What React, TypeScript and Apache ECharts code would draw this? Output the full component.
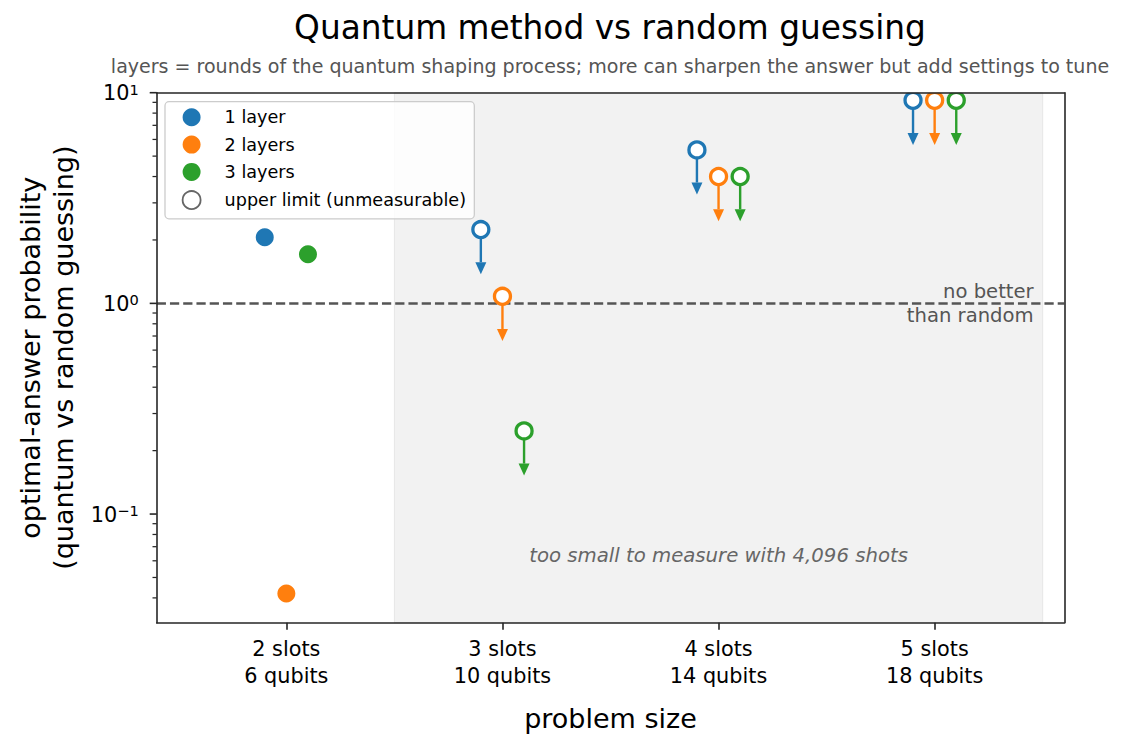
import React, { useEffect, useRef } from 'react';
import * as echarts from 'echarts';

// ---------- data ----------
const SIZE_LABELS = ['2 slots\n6 qubits', '3 slots\n10 qubits', '4 slots\n14 qubits', '5 slots\n18 qubits'];
const SIZE_POSITIONS = [0, 1, 2, 3];
const LAYER_NAMES = ['1 layer', '2 layers', '3 layers'];
const LAYER_OFFSETS = [-0.1, 0, 0.1];
const LAYER1_VALUES = [2.06, 2.24, 5.35, 9.2];
const LAYER2_VALUES = [0.042, 1.08, 4.0, 9.2];
const LAYER3_VALUES = [1.71, 0.248, 4.0, 9.2];
const LAYER1_UPPER_LIMIT = [false, true, true, true];
const LAYER2_UPPER_LIMIT = [false, true, true, true];
const LAYER3_UPPER_LIMIT = [false, true, true, true];
const UPPER_LIMIT_NAME = 'upper limit (unmeasurable)';
const Y_MAJOR_TICKS = [0.1, 1, 10];
const Y_MINOR_TICKS = [0.04, 0.05, 0.06, 0.07, 0.08, 0.09, 0.2, 0.3, 0.4, 0.5, 0.6, 0.7, 0.8, 0.9, 2, 3, 4, 5, 6, 7, 8, 9];
const RANDOM_LEVEL = 1;
const SHADE_RANGE = [0.5, 3.5];
const TITLE = 'Quantum method vs random guessing';
const SUBTITLE = 'layers = rounds of the quantum shaping process; more can sharpen the answer but add settings to tune';
const X_NAME = 'problem size';
const Y_NAME = 'optimal-answer probability\n(quantum vs random guessing)';
const RANDOM_NOTE = 'no better\nthan random';
const RANDOM_NOTE_POS = [3.458, 1];
const SHADE_NOTE = 'too small to measure with 4,096 shots';
const SHADE_NOTE_POS = [2, 0.0639];

// ---------- style ----------
const FONT = 'DejaVu Sans';
const LAYER_COLORS = ['#1f77b4', '#ff7f0e', '#2ca02c'];
const X_MIN = -0.6;
const X_MAX = 3.6;
const Y_MIN = 0.0305;
const Y_MAX = 10;
const ARROW_FRAC = 0.7;
const SPINE = '#262626';

const LAYER_VALUES = [LAYER1_VALUES, LAYER2_VALUES, LAYER3_VALUES];
const LAYER_UPPER = [LAYER1_UPPER_LIMIT, LAYER2_UPPER_LIMIT, LAYER3_UPPER_LIMIT];

function buildOption() {
  const measuredSeries = LAYER_NAMES.map((name, li) => ({
    name,
    type: 'scatter',
    symbol: 'circle',
    symbolSize: 18,
    itemStyle: { color: LAYER_COLORS[li], opacity: 1 },
    z: 4,
    data: SIZE_POSITIONS.map((p, i) => (LAYER_UPPER[li][i] ? null : [p + LAYER_OFFSETS[li], LAYER_VALUES[li][i]])).filter(Boolean),
  }));

  const upperData: number[][] = [];
  LAYER_NAMES.forEach((_, li) => {
    SIZE_POSITIONS.forEach((p, i) => {
      if (LAYER_UPPER[li][i]) upperData.push([p + LAYER_OFFSETS[li], LAYER_VALUES[li][i], li]);
    });
  });

  const tickData = [
    ...Y_MAJOR_TICKS.map((v) => [X_MIN, v, 1]),
    ...Y_MINOR_TICKS.map((v) => [X_MIN, v, 0]),
  ];

  const spineLine = { show: true, onZero: false, lineStyle: { color: SPINE, width: 1.6 } };

  return {
    animation: false,
    backgroundColor: '#ffffff',
    textStyle: { fontFamily: FONT },
    title: [
      {
        text: TITLE,
        left: 610,
        top: 11,
        padding: 0,
        textAlign: 'center',
        textStyle: { fontSize: 32.8, fontWeight: 'normal', color: '#000', fontFamily: FONT },
      },
      {
        text: SUBTITLE,
        left: 610,
        top: 56,
        padding: 0,
        textAlign: 'center',
        textStyle: { fontSize: 19.05, fontWeight: 'normal', color: '#555', fontFamily: FONT },
      },
    ],
    legend: {
      orient: 'vertical',
      left: 165,
      top: 101.7,
      padding: [6.6, 8.3, 8.8, 16.7],
      itemWidth: 18,
      itemHeight: 18,
      itemGap: 9.3,
      selectedMode: false,
      backgroundColor: 'rgba(255,255,255,0.8)',
      borderColor: '#cccccc',
      borderWidth: 1.3,
      borderRadius: 4,
      textStyle: { fontSize: 17.6, color: '#000', fontFamily: FONT, padding: [0, 0, 0, 19] },
      data: [
        ...LAYER_NAMES.map((n) => ({ name: n, icon: 'circle' })),
        { name: UPPER_LIMIT_NAME, icon: 'circle', itemStyle: { color: '#ffffff', borderColor: '#666666', borderWidth: 1.8 } },
      ],
      z: 10,
    },
    grid: { left: 156.7, top: 92.7, right: 60.7, bottom: 127.3, show: false },
    xAxis: [
      {
        type: 'value',
        min: X_MIN,
        max: X_MAX,
        z: 8,
        axisLine: spineLine,
        axisTick: { show: true, length: 7, customValues: SIZE_POSITIONS, lineStyle: { color: SPINE, width: 1.6 } },
        axisLabel: {
          customValues: SIZE_POSITIONS,
          margin: 13.5,
          fontSize: 20.8,
          lineHeight: 26.5,
          color: '#000',
          fontFamily: FONT,
          formatter: (v: number) => SIZE_LABELS[Math.round(v)] ?? '',
        },
        splitLine: { show: false },
        name: X_NAME,
        nameLocation: 'middle',
        nameGap: 82,
        nameTextStyle: { fontSize: 27, color: '#000', fontFamily: FONT },
      },
      {
        type: 'value',
        position: 'top',
        min: X_MIN,
        max: X_MAX,
        z: 8,
        axisLine: spineLine,
        axisTick: { show: false },
        axisLabel: { show: false },
        splitLine: { show: false },
      },
    ],
    yAxis: [
      {
        type: 'log',
        logBase: 10,
        min: Y_MIN,
        max: Y_MAX,
        z: 8,
        axisLine: spineLine,
        axisTick: { show: false },
        splitLine: { show: false },
        minorTick: { show: false },
        axisLabel: {
          showMinLabel: false,
          margin: 18,
          color: '#000',
          fontFamily: FONT,
          formatter: (v: number) => {
            const l = Math.log10(v);
            const e = Math.round(l);
            if (Math.abs(l - e) > 0.01) return '';
            return `{b|10}{e|${e < 0 ? '\u2212' + -e : e}}`;
          },
          rich: {
            b: { fontSize: 20.8, lineHeight: 22, verticalAlign: 'bottom', color: '#000', fontFamily: FONT },
            e: { fontSize: 14.6, lineHeight: 14, verticalAlign: 'top', padding: [0, 0, 12, 0], color: '#000', fontFamily: FONT },
          },
        },
        name: Y_NAME,
        nameLocation: 'middle',
        nameRotate: 90,
        nameGap: 77,
        nameTextStyle: { fontSize: 27, lineHeight: 32.5, color: '#000', fontFamily: FONT, align: 'center' },
      },
      {
        type: 'log',
        logBase: 10,
        min: Y_MIN,
        max: Y_MAX,
        position: 'right',
        z: 8,
        axisLine: spineLine,
        axisTick: { show: false },
        axisLabel: { show: false },
        splitLine: { show: false },
      },
    ],
    series: [
      {
        name: 'region',
        type: 'scatter',
        data: [],
        z: 1,
        silent: true,
        markArea: {
          silent: true,
          itemStyle: { color: '#f2f2f2', borderColor: '#e6e6e6', borderWidth: 1 },
          data: [[{ xAxis: SHADE_RANGE[0] }, { xAxis: SHADE_RANGE[1] }]],
        },
        markLine: {
          silent: true,
          symbol: ['none', 'none'],
          label: { show: false },
          lineStyle: { color: '#555555', width: 2.5, type: [9.25, 4] },
          data: [{ yAxis: RANDOM_LEVEL }],
        },
      },
      ...measuredSeries,
      {
        name: UPPER_LIMIT_NAME,
        type: 'custom',
        coordinateSystem: 'cartesian2d',
        clip: true,
        z: 5,
        encode: { x: 0, y: 1 },
        data: upperData,
        renderItem: (params: any, api: any) => {
          const x = api.value(0);
          const y = api.value(1);
          const color = LAYER_COLORS[api.value(2)];
          const c = api.coord([x, y]);
          const e = api.coord([x, y * ARROW_FRAC]);
          const head = 12;
          const hw = 5.5;
          return {
            type: 'group',
            children: [
              { type: 'line', shape: { x1: c[0], y1: c[1], x2: e[0], y2: e[1] }, style: { stroke: color, lineWidth: 2.4 } },
              {
                type: 'polygon',
                shape: { points: [[e[0] - hw, e[1]], [e[0] + hw, e[1]], [e[0], e[1] + head]] },
                style: { fill: color },
              },
              { type: 'circle', shape: { cx: c[0], cy: c[1], r: 8 }, style: { fill: '#ffffff', stroke: color, lineWidth: 3.3 } },
            ],
          };
        },
      },
      {
        name: 'notes',
        type: 'custom',
        coordinateSystem: 'cartesian2d',
        clip: false,
        silent: true,
        z: 3,
        encode: { x: 0, y: 1 },
        data: [
          [RANDOM_NOTE_POS[0], RANDOM_NOTE_POS[1], 0],
          [SHADE_NOTE_POS[0], SHADE_NOTE_POS[1], 1],
        ],
        renderItem: (params: any, api: any) => {
          const kind = api.value(2);
          const p = api.coord([api.value(0), api.value(1)]);
          if (kind === 0) {
            return {
              type: 'text',
              x: p[0],
              y: p[1],
              style: {
                text: RANDOM_NOTE,
                fill: '#555555',
                fontSize: 19.6,
                fontFamily: FONT,
                lineHeight: 23.5,
                align: 'right',
                verticalAlign: 'middle',
              },
            };
          }
          return {
            type: 'text',
            x: p[0],
            y: p[1],
            style: {
              text: SHADE_NOTE,
              fill: '#666666',
              fontSize: 19.7,
              fontStyle: 'italic',
              fontFamily: FONT,
              align: 'center',
              verticalAlign: 'middle',
            },
          };
        },
      },
      {
        name: 'yticks',
        type: 'custom',
        coordinateSystem: 'cartesian2d',
        clip: false,
        silent: true,
        z: 9,
        encode: { x: 0, y: 1 },
        data: tickData,
        renderItem: (params: any, api: any) => {
          const p = api.coord([api.value(0), api.value(1)]);
          const major = api.value(2) === 1;
          const len = major ? 7 : 4.2;
          return {
            type: 'line',
            shape: { x1: p[0] - len, y1: p[1], x2: p[0], y2: p[1] },
            style: { stroke: SPINE, lineWidth: major ? 1.6 : 1.25 },
          };
        },
      },
    ],
  };
}

export default function App() {
  const ref = useRef<HTMLDivElement>(null);
  useEffect(() => {
    if (!ref.current) return;
    const chart = echarts.init(ref.current, undefined, { renderer: 'svg' });
    chart.setOption(buildOption() as any);
    return () => chart.dispose();
  }, []);
  return (
    <div
      ref={ref}
      style={{ position: 'fixed', left: 0, top: 0, width: 1125, height: 750, background: '#fff' }}
    />
  );
}
